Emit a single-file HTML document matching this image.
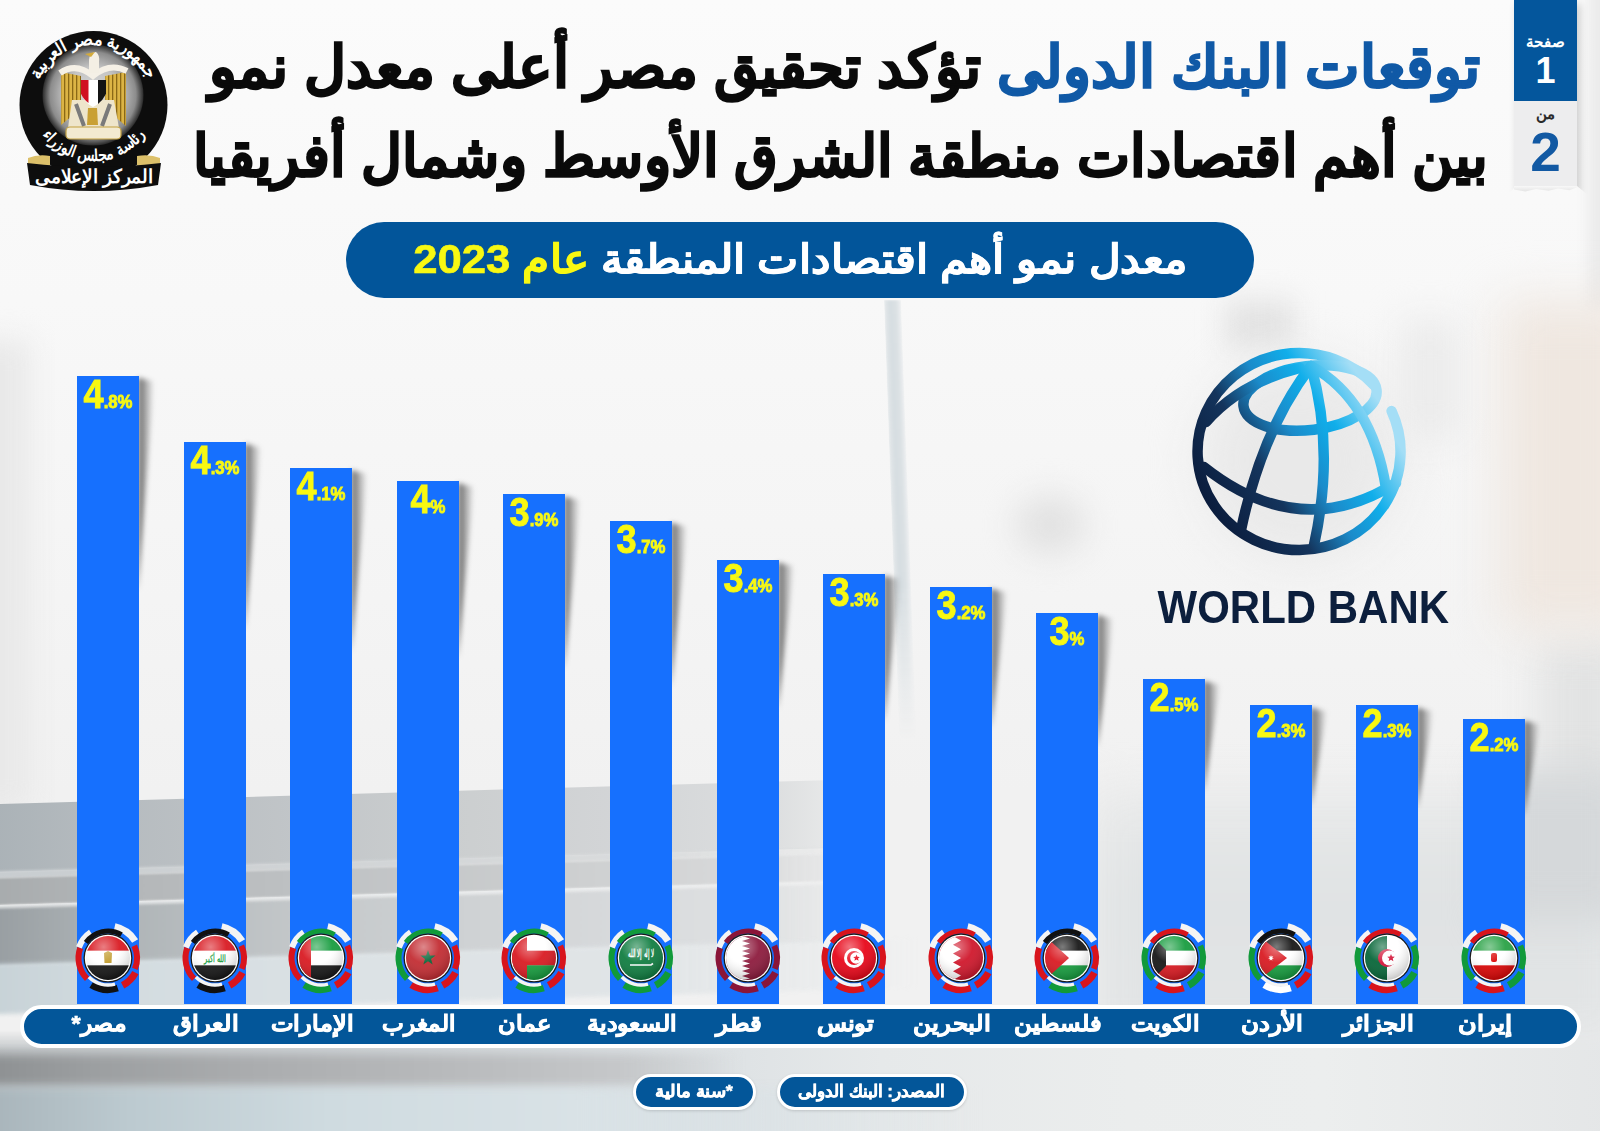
<!DOCTYPE html>
<html lang="ar"><head><meta charset="utf-8"><title>World Bank growth</title>
<style>
*{margin:0;padding:0;box-sizing:border-box}
html,body{width:1600px;height:1131px;overflow:hidden}
body{position:relative;font-family:"Liberation Sans",sans-serif;background:#f6f6f6}
.abs{position:absolute}
.bg{position:absolute;left:0;top:0;width:1600px;height:1131px}
.title{position:absolute;white-space:nowrap;font-weight:bold;line-height:1;direction:rtl;transform-origin:right top}
.bar{position:absolute;width:62px;background:#1670fe}
.shd{position:absolute;width:16px;filter:blur(2.4px)}
.shd div{width:100%;height:100%;background:linear-gradient(90deg,rgba(35,35,35,.7),rgba(35,35,35,.35) 50%,rgba(35,35,35,0));clip-path:polygon(0 0,100% 4px,0 100%)}
.pct{position:absolute;width:62px;text-align:center;color:#f8f812;font-weight:bold;white-space:nowrap;line-height:1;transform:scaleX(.88);transform-origin:center top;-webkit-text-stroke:.9px}
.pct b{font-size:41px}
.pct i{font-style:normal;font-size:19px}
.band{position:absolute;left:20px;top:1005px;width:1561px;height:43px;border-radius:22px;background:#035699;border:4px solid #fff}
.lbl{position:absolute;top:1011px;color:#fff;font-weight:bold;font-size:22px;direction:rtl;white-space:nowrap;text-align:center;width:140px;-webkit-text-stroke:.7px;transform:scaleX(.93)}
.pill{position:absolute;background:#035699;border:3px solid #fff;border-radius:20px;color:#fff;font-weight:bold;font-size:17px;direction:rtl;text-align:center;white-space:nowrap;-webkit-text-stroke:.5px;box-shadow:0 1px 3px rgba(0,0,0,.15)}
</style></head><body>
<svg width="0" height="0" style="position:absolute"><defs>
<radialGradient id="gloss" cx="0.4" cy="0.25" r="0.8"><stop offset="0" stop-color="#fff" stop-opacity=".45"/><stop offset=".45" stop-color="#fff" stop-opacity=".08"/><stop offset="1" stop-color="#000" stop-opacity=".25"/></radialGradient>
<linearGradient id="wbg" x1="0" y1="1" x2="1" y2="0"><stop offset="0" stop-color="#0a1a38"/><stop offset=".35" stop-color="#0f2a52"/><stop offset=".62" stop-color="#1a86c4"/><stop offset=".8" stop-color="#0aaee9"/><stop offset="1" stop-color="#9edcf6"/></linearGradient>
<radialGradient id="lgin" cx=".5" cy=".5" r=".5"><stop offset="0" stop-color="#d8d8d8"/><stop offset=".55" stop-color="#c4c4c4"/><stop offset=".85" stop-color="#8c8c8c"/><stop offset="1" stop-color="#2a2a2a"/></radialGradient>
<linearGradient id="gold" x1="0" y1="0" x2="1" y2="0"><stop offset="0" stop-color="#8a6a1a"/><stop offset=".5" stop-color="#e8c862"/><stop offset="1" stop-color="#9a7a22"/></linearGradient>
</defs></svg>

<div class="abs" style="left:0;top:0;width:1600px;height:1131px;background:linear-gradient(#fbfbfb 0,#f8f8f8 300px,#f4f4f4 600px,#f1f1f1 790px)"></div>
<div class="abs" style="left:1588px;top:-20px;width:30px;height:330px;background:#ebebeb;filter:blur(6px)"></div>
<div class="abs" style="left:1540px;top:640px;width:90px;height:180px;background:#e2e3e3;filter:blur(20px)"></div>
<div class="abs" style="left:-40px;top:340px;width:70px;height:470px;background:#e9e9e9;filter:blur(14px)"></div>
<div class="abs" style="left:884px;top:300px;width:17px;height:440px;transform:skewX(2.0deg);transform-origin:0 0;background:linear-gradient(90deg,#e4e8ea,#d6dde1 35%,#dbe1e4 70%,#eef0f1);-webkit-mask-image:linear-gradient(#000 65%,transparent);filter:blur(.8px)"></div>
<div class="abs" style="left:1015px;top:495px;width:70px;height:60px;border-radius:50%;background:#e2e2e2;filter:blur(16px)"></div>
<div class="abs" style="left:1500px;top:300px;width:140px;height:330px;background:#efe7e0;filter:blur(25px)"></div>
<div class="abs" style="left:1225px;top:300px;width:70px;height:50px;background:#e3e3e3;filter:blur(14px)"></div>
<div class="abs" style="left:1200px;top:360px;width:200px;height:200px;border-radius:50%;background:#e9e9e9;filter:blur(25px)"></div>
<div class="abs" style="left:1400px;top:320px;width:60px;height:120px;background:#ebebeb;filter:blur(18px)"></div>
<!-- laptop body -->
<div class="abs" style="left:0;top:0;width:1600px;height:1131px;transform:skewY(-1.65deg);transform-origin:0 0">
<div class="abs" style="left:-20px;top:803.6px;width:900px;height:68px;background:linear-gradient(90deg,#a9b1b6 0,#b4babe 12%,#c1c5c8 35%,#cbcecf 52%,#d3d5d7 72%,#dcdedf 88%,rgba(236,237,238,0) 100%)"></div>
<div class="abs" style="left:-20px;top:871px;width:900px;height:7px;background:linear-gradient(90deg,#c8cdd0,#d1d4d6 40%,#dadcdd 75%,rgba(236,237,238,0));filter:blur(.8px)"></div>
<div class="abs" style="left:-20px;top:878px;width:900px;height:27px;background:linear-gradient(90deg,#a6aaac,#b3b6b8 15%,#bfc2c4 38%,#cdcfd0 65%,#d8d9da 85%,rgba(236,237,238,0));filter:blur(1px)"></div>
<div class="abs" style="left:-20px;top:905px;width:880px;height:3px;background:linear-gradient(90deg,#e6e8e9,#eceeef 70%,rgba(240,240,240,0))"></div>
<div class="abs" style="left:-20px;top:908px;width:900px;height:58px;background:linear-gradient(90deg,#959b9f,#aab0b3 12%,#c3c7c9 35%,#cfd2d4 55%,#d9dbdd 75%,#e0e2e3 88%,rgba(236,237,238,0));filter:blur(1.5px)"></div>
<div class="abs" style="left:-20px;top:964px;width:940px;height:50px;background:linear-gradient(90deg,#c6d1d6,#d3dce0 15%,#dce2e5 40%,#e1e5e7 70%,rgba(236,238,239,0));filter:blur(2px)"></div>
</div>
<div class="abs" style="left:1090px;top:790px;width:540px;height:260px;background:linear-gradient(#e9eaea,#e0e3e4 40%,#e3e5e6);filter:blur(22px)"></div>
<div class="abs" style="left:1490px;top:770px;width:140px;height:150px;background:#d5d8da;filter:blur(20px)"></div>
<!-- bottom -->
<div class="abs" style="left:-20px;top:1030px;width:1640px;height:110px;background:linear-gradient(90deg,#c3c7c9 0,#cbd0d3 20%,#d9dee1 40%,#e6e9ea 55%,#ebeded 70%,#eceeee 82%,#e4e6e7 100%);-webkit-mask-image:linear-gradient(transparent 0,#000 20px)"></div>
<div class="abs" style="left:-20px;top:1054px;width:760px;height:32px;background:linear-gradient(90deg,#8c8f91,#9c9fa1 15%,#aaacae 35%,#b7b9bb 60%,#c6c8ca 85%,rgba(216,219,221,0));filter:blur(5px)"></div>
<div class="abs" style="left:-20px;top:1088px;width:1000px;height:60px;background:linear-gradient(90deg,#a7b3b9,#bccad0 15%,#cfdbe0 35%,#d9e2e6 60%,rgba(225,230,232,0));filter:blur(5px)"></div>


<svg class="abs" style="left:10px;top:22px" width="170" height="175" viewBox="10 22 170 175">
<defs>
<path id="topArc" d="M37.1 84.5 A60 60 0 0 1 149.9 84.5"/>
<path id="botArc" d="M35.5 124 A64 64 0 0 0 151.5 124"/>
<pattern id="wstripe" width="4" height="10" patternUnits="userSpaceOnUse"><rect width="4" height="10" fill="#dcb445"/><rect width="1.3" height="10" fill="#8a6816"/></pattern>
</defs>
<circle cx="93.5" cy="105" r="74" fill="#0d0d0d"/>
<circle cx="93" cy="95" r="50.5" fill="url(#lgin)"/>
<g>
<path d="M61 72 L81 76 L81 104 L72 116 L61 125 Z" fill="url(#wstripe)"/>
<path d="M126 72 L105 76 L105 104 L114 116 L126 126 Z" fill="url(#wstripe)"/>
<path d="M72 100 L114 100 L119 128 L68 128 Z" fill="#eee5cb"/>
<path d="M76 104 L84 126 M110 104 L102 126" stroke="#7a7a7a" stroke-width="4"/>
<path d="M88 108 L97 108 L98 125 L87 125 Z" fill="#c9a033"/>
<path d="M60 73 Q76 62 93 76 Q110 62 127 71" stroke="#f5f0e6" stroke-width="6" fill="none"/>
<path d="M89 73 L89 60 Q90 52 96 52 Q100 55 99 62 L99 73 Z" fill="#f4efe4"/>
<path d="M95 52 L85 54 L91 57 Z" fill="#d4ab3c"/>
<path d="M81 80 L106 80 L106 94 Q100 104 93 107 Q86 104 81 94 Z" fill="#fff"/>
<path d="M81 80 L88.5 80 L88.5 103 Q84 100 81 94 Z" fill="#d01020"/>
<path d="M98 80 L106 80 L106 94 Q103 100 98 104 Z" fill="#141414"/>
<rect x="66" y="127" width="55" height="12" rx="4" fill="#f3ead0" stroke="#c2a040" stroke-width="1.2"/>
</g>
<text fill="#fff" font-size="17" font-weight="bold" text-anchor="middle"><textPath href="#topArc" startOffset="50%" textLength="136" lengthAdjust="spacingAndGlyphs">جمهورية مصر العربية</textPath></text>
<text fill="#fff" font-size="16" font-weight="bold" text-anchor="middle"><textPath href="#botArc" startOffset="50%" textLength="120" lengthAdjust="spacingAndGlyphs">رئاسة مجلس الوزراء</textPath></text>
<path d="M28 158 Q38 154 50 156 L50 167 L28 167 Z" fill="#dcc06a"/>
<path d="M160 158 Q150 154 137 156 L137 167 L160 167 Z" fill="#dcc06a"/>
<path d="M27 163 Q94 171 161 163 L158 185 Q94 197 30 185 Z" fill="#0d0d0d"/>
<text x="94" y="183" fill="#fff" font-size="19" font-weight="bold" text-anchor="middle" textLength="118" lengthAdjust="spacingAndGlyphs">المركز الإعلامى</text>
</svg>


<div class="abs" style="left:1514px;top:0;width:63px;height:191px;box-shadow:3px 4px 8px rgba(0,0,0,.18);background:#ededee;clip-path:polygon(-10px 0,80px 0,80px 200px,63px 186px,55px 189px,45px 187px,35px 190px,22px 187px,10px 190px,0 188px,-10px 200px)"></div>
<div class="abs" style="left:1514px;top:0;width:63px;height:101px;background:#04569c"></div>
<div class="abs" style="left:1514px;top:186px;width:63px;height:6px;background:linear-gradient(#f8f8f8,#e2e2e2);clip-path:polygon(0 0,100% 0,100% 20%,88% 70%,70% 40%,55% 80%,35% 50%,18% 90%,0 60%)"></div>
<div class="abs" style="left:1514px;top:33px;width:63px;text-align:center;color:#fff;font-weight:bold;font-size:15px;line-height:18px;direction:rtl">صفحة</div>
<div class="abs" style="left:1514px;top:53px;width:63px;text-align:center;color:#fff;font-weight:bold;font-size:36px;line-height:36px">1</div>
<div class="abs" style="left:1514px;top:105px;width:63px;text-align:center;color:#2a2a2a;font-weight:bold;font-size:15px;line-height:18px;direction:rtl">من</div>
<div class="abs" style="left:1514px;top:125px;width:63px;text-align:center;color:#1259a3;font-weight:bold;font-size:55px;line-height:55px">2</div>


<svg class="abs" style="left:1180px;top:335px" width="240" height="230" viewBox="1180 335 240 230">
<defs><linearGradient id="wbg2" gradientUnits="userSpaceOnUse" x1="1205" y1="500" x2="1372" y2="400"><stop offset="0" stop-color="#0b1d3d"/><stop offset=".33" stop-color="#14345c"/><stop offset=".55" stop-color="#1b8bca"/><stop offset=".75" stop-color="#10aeea"/><stop offset="1" stop-color="#a4def6"/></linearGradient></defs>
<g fill="none" stroke="url(#wbg2)" stroke-width="10.5" stroke-linecap="round">
<path d="M1391.6 411.1 A101.5 98.5 0 1 1 1373.7 384.8"/>
<ellipse cx="1310" cy="398" rx="67" ry="32" transform="rotate(-7 1310 398)"/>
<path d="M1311 366 Q1262 430 1241 530"/>
<path d="M1311 366 Q1335 450 1314 545"/>
<path d="M1311 366 Q1372 400 1386 488"/>
<path d="M1204 467 Q1300 543 1396 483"/>
<path d="M1206 422 Q1240 383 1300 368"/>
</g>
</svg>
<div class="abs" style="left:1141px;top:581px;width:310px;text-align:center;color:#0c1f3d;font-weight:bold;font-size:47px;line-height:52px;white-space:nowrap;transform:scaleX(.893)">WORLD BANK</div>


<div class="title fit" id="t1" style="right:120.0px;top:37.5px;font-size:58px;transform:scaleX(0.8453);-webkit-text-stroke:1.6px"><span class="fi" id="t1i"><span style="color:#1059a6">توقعات البنك الدولى</span> <span style="color:#0a0a0a">تؤكد تحقيق مصر أعلى معدل نمو</span></span></div>
<div class="title fit" id="t2" style="right:112.0px;top:126.9px;color:#0a0a0a;font-size:58px;transform:scaleX(0.8129);-webkit-text-stroke:1.6px"><span class="fi" id="t2i">بين أهم اقتصادات منطقة الشرق الأوسط وشمال أفريقيا</span></div>

<div class="abs" style="left:346px;top:222px;width:908px;height:76px;border-radius:38px;background:#02559a"></div>
<div class="abs fit" id="sub" style="left:346px;top:236px;width:908px;text-align:center;direction:rtl;color:#fff;font-weight:bold;font-size:40px;line-height:46px;white-space:nowrap;transform:scaleX(0.9436);-webkit-text-stroke:0.6px"><span class="fi">معدل نمو أهم اقتصادات المنطقة <span style="color:#f8f812">عام 2023</span></span></div>

<div class="shd" style="left:138.0px;top:377.6px;height:213.7px"><div></div></div>
<div class="bar" style="left:77.0px;top:375.6px;height:628.4px"></div>
<div class="shd" style="left:244.6px;top:443.6px;height:191.2px"><div></div></div>
<div class="bar" style="left:183.6px;top:441.6px;height:562.5px"></div>
<div class="shd" style="left:351.2px;top:469.9px;height:182.3px"><div></div></div>
<div class="bar" style="left:290.2px;top:467.9px;height:536.1px"></div>
<div class="shd" style="left:457.8px;top:483.1px;height:177.8px"><div></div></div>
<div class="bar" style="left:396.8px;top:481.1px;height:522.9px"></div>
<div class="shd" style="left:564.4px;top:496.3px;height:173.3px"><div></div></div>
<div class="bar" style="left:503.4px;top:494.3px;height:509.7px"></div>
<div class="shd" style="left:671.0px;top:522.7px;height:164.3px"><div></div></div>
<div class="bar" style="left:610.0px;top:520.7px;height:483.3px"></div>
<div class="shd" style="left:777.6px;top:562.3px;height:150.9px"><div></div></div>
<div class="bar" style="left:716.6px;top:560.3px;height:443.7px"></div>
<div class="shd" style="left:884.2px;top:575.5px;height:146.4px"><div></div></div>
<div class="bar" style="left:823.2px;top:573.5px;height:430.5px"></div>
<div class="shd" style="left:990.8px;top:588.6px;height:141.9px"><div></div></div>
<div class="bar" style="left:929.8px;top:586.6px;height:417.4px"></div>
<div class="shd" style="left:1097.4px;top:615.0px;height:132.9px"><div></div></div>
<div class="bar" style="left:1036.4px;top:613.0px;height:391.0px"></div>
<div class="shd" style="left:1204.0px;top:681.0px;height:110.5px"><div></div></div>
<div class="bar" style="left:1143.0px;top:679.0px;height:325.0px"></div>
<div class="shd" style="left:1310.6px;top:707.4px;height:101.5px"><div></div></div>
<div class="bar" style="left:1249.6px;top:705.4px;height:298.6px"></div>
<div class="shd" style="left:1417.2px;top:707.4px;height:101.5px"><div></div></div>
<div class="bar" style="left:1356.2px;top:705.4px;height:298.6px"></div>
<div class="shd" style="left:1523.8px;top:720.5px;height:97.1px"><div></div></div>
<div class="bar" style="left:1462.8px;top:718.5px;height:285.5px"></div>
<div class="pct" style="left:77.0px;top:373.6px"><b>4</b><i>.8%</i></div>
<div class="pct" style="left:183.6px;top:439.6px"><b>4</b><i>.3%</i></div>
<div class="pct" style="left:290.2px;top:465.9px"><b>4</b><i>.1%</i></div>
<div class="pct" style="left:396.8px;top:479.1px"><b>4</b><i>%</i></div>
<div class="pct" style="left:503.4px;top:492.3px"><b>3</b><i>.9%</i></div>
<div class="pct" style="left:610.0px;top:518.7px"><b>3</b><i>.7%</i></div>
<div class="pct" style="left:716.6px;top:558.3px"><b>3</b><i>.4%</i></div>
<div class="pct" style="left:823.2px;top:571.5px"><b>3</b><i>.3%</i></div>
<div class="pct" style="left:929.8px;top:584.6px"><b>3</b><i>.2%</i></div>
<div class="pct" style="left:1036.4px;top:611.0px"><b>3</b><i>%</i></div>
<div class="pct" style="left:1143.0px;top:677.0px"><b>2</b><i>.5%</i></div>
<div class="pct" style="left:1249.6px;top:703.4px"><b>2</b><i>.3%</i></div>
<div class="pct" style="left:1356.2px;top:703.4px"><b>2</b><i>.3%</i></div>
<div class="pct" style="left:1462.8px;top:716.5px"><b>2</b><i>.2%</i></div>
<div class="abs" style="left:68.0px;top:918px;width:80px;height:80px"><svg class="flag" width="80" height="80" viewBox="-40 -40 80 80"><defs><clipPath id="fc0"><circle r="22"/></clipPath></defs><path d="M6.7 -31.3A32 32 0 0 1 27.1 -17.0" stroke="#f4f4f4" stroke-width="7" fill="none"/><path d="M26.3 -12.3A29 29 0 0 1 26.9 10.9" stroke="#d8141c" stroke-width="6" fill="none"/><path d="M27.4 14.6A31 31 0 0 1 14.6 27.4" stroke="#d8141c" stroke-width="7" fill="none"/><path d="M9.7 30.0A31.5 31.5 0 0 1 -16.7 26.7" stroke="#111111" stroke-width="7" fill="none"/><path d="M-20.9 20.9A29.5 29.5 0 0 1 -27.7 -10.1" stroke="#d8141c" stroke-width="6" fill="none"/><path d="M-29.1 -10.6A31 31 0 0 1 -17.3 -25.7" stroke="#f4f4f4" stroke-width="6" fill="none"/><path d="M-22.1 -15.5A27 27 0 0 1 13.5 -23.4" stroke="#111111" stroke-width="5" fill="none"/><path d="M7.0 26.1A27 27 0 0 1 -19.1 19.1" stroke="#f4f4f4" stroke-width="3.5" fill="none"/><circle r="24.5" fill="#1a1a1a"/><circle r="23.2" fill="#fff"/><g clip-path="url(#fc0)"><rect x="-22" y="-22.00" width="44" height="14.97" fill="#d8141c"/><rect x="-22" y="-7.33" width="44" height="14.97" fill="#ffffff"/><rect x="-22" y="7.33" width="44" height="14.97" fill="#111111"/><path d="M-4 -5 L0 -7 L4 -5 L3.5 5 L-3.5 5 Z" fill="#c09a2a"/></g><circle r="22" fill="url(#gloss)"/></svg></div>
<div class="abs" style="left:174.6px;top:918px;width:80px;height:80px"><svg class="flag" width="80" height="80" viewBox="-40 -40 80 80"><defs><clipPath id="fc1"><circle r="22"/></clipPath></defs><path d="M6.7 -31.3A32 32 0 0 1 27.1 -17.0" stroke="#f4f4f4" stroke-width="7" fill="none"/><path d="M26.3 -12.3A29 29 0 0 1 26.9 10.9" stroke="#d8141c" stroke-width="6" fill="none"/><path d="M27.4 14.6A31 31 0 0 1 14.6 27.4" stroke="#d8141c" stroke-width="7" fill="none"/><path d="M9.7 30.0A31.5 31.5 0 0 1 -16.7 26.7" stroke="#111111" stroke-width="7" fill="none"/><path d="M-20.9 20.9A29.5 29.5 0 0 1 -27.7 -10.1" stroke="#d8141c" stroke-width="6" fill="none"/><path d="M-29.1 -10.6A31 31 0 0 1 -17.3 -25.7" stroke="#f4f4f4" stroke-width="6" fill="none"/><path d="M-22.1 -15.5A27 27 0 0 1 13.5 -23.4" stroke="#111111" stroke-width="5" fill="none"/><path d="M7.0 26.1A27 27 0 0 1 -19.1 19.1" stroke="#f4f4f4" stroke-width="3.5" fill="none"/><circle r="24.5" fill="#1a1a1a"/><circle r="23.2" fill="#fff"/><g clip-path="url(#fc1)"><rect x="-22" y="-22.00" width="44" height="14.97" fill="#d8141c"/><rect x="-22" y="-7.33" width="44" height="14.97" fill="#ffffff"/><rect x="-22" y="7.33" width="44" height="14.97" fill="#111111"/><text x="0" y="4" font-size="10" font-weight="bold" fill="#119a3a" text-anchor="middle" textLength="22" lengthAdjust="spacingAndGlyphs">الله أكبر</text></g><circle r="22" fill="url(#gloss)"/></svg></div>
<div class="abs" style="left:281.2px;top:918px;width:80px;height:80px"><svg class="flag" width="80" height="80" viewBox="-40 -40 80 80"><defs><clipPath id="fc2"><circle r="22"/></clipPath></defs><path d="M6.7 -31.3A32 32 0 0 1 27.1 -17.0" stroke="#f4f4f4" stroke-width="7" fill="none"/><path d="M26.3 -12.3A29 29 0 0 1 26.9 10.9" stroke="#d8141c" stroke-width="6" fill="none"/><path d="M27.4 14.6A31 31 0 0 1 14.6 27.4" stroke="#d8141c" stroke-width="7" fill="none"/><path d="M9.7 30.0A31.5 31.5 0 0 1 -16.7 26.7" stroke="#119a3a" stroke-width="7" fill="none"/><path d="M-20.9 20.9A29.5 29.5 0 0 1 -27.7 -10.1" stroke="#d8141c" stroke-width="6" fill="none"/><path d="M-29.1 -10.6A31 31 0 0 1 -17.3 -25.7" stroke="#f4f4f4" stroke-width="6" fill="none"/><path d="M-22.1 -15.5A27 27 0 0 1 13.5 -23.4" stroke="#119a3a" stroke-width="5" fill="none"/><path d="M7.0 26.1A27 27 0 0 1 -19.1 19.1" stroke="#f4f4f4" stroke-width="3.5" fill="none"/><circle r="24.5" fill="#1a1a1a"/><circle r="23.2" fill="#fff"/><g clip-path="url(#fc2)"><rect x="-22" y="-22.00" width="44" height="14.97" fill="#119a3a"/><rect x="-22" y="-7.33" width="44" height="14.97" fill="#ffffff"/><rect x="-22" y="7.33" width="44" height="14.97" fill="#111111"/><rect x="-22" y="-22" width="12.0" height="44" fill="#d8141c"/></g><circle r="22" fill="url(#gloss)"/></svg></div>
<div class="abs" style="left:387.8px;top:918px;width:80px;height:80px"><svg class="flag" width="80" height="80" viewBox="-40 -40 80 80"><defs><clipPath id="fc3"><circle r="22"/></clipPath></defs><path d="M6.7 -31.3A32 32 0 0 1 27.1 -17.0" stroke="#f4f4f4" stroke-width="7" fill="none"/><path d="M26.3 -12.3A29 29 0 0 1 26.9 10.9" stroke="#d8141c" stroke-width="6" fill="none"/><path d="M27.4 14.6A31 31 0 0 1 14.6 27.4" stroke="#d8141c" stroke-width="7" fill="none"/><path d="M9.7 30.0A31.5 31.5 0 0 1 -16.7 26.7" stroke="#d8141c" stroke-width="7" fill="none"/><path d="M-20.9 20.9A29.5 29.5 0 0 1 -27.7 -10.1" stroke="#119a3a" stroke-width="6" fill="none"/><path d="M-29.1 -10.6A31 31 0 0 1 -17.3 -25.7" stroke="#f4f4f4" stroke-width="6" fill="none"/><path d="M-22.1 -15.5A27 27 0 0 1 13.5 -23.4" stroke="#119a3a" stroke-width="5" fill="none"/><path d="M7.0 26.1A27 27 0 0 1 -19.1 19.1" stroke="#f4f4f4" stroke-width="3.5" fill="none"/><circle r="24.5" fill="#1a1a1a"/><circle r="23.2" fill="#fff"/><g clip-path="url(#fc3)"><rect x="-22" y="-22" width="44" height="44" fill="#c1272d"/><polygon points="0.0,-8.0 1.9,-2.6 7.6,-2.5 3.0,1.0 4.7,6.5 0.0,3.2 -4.7,6.5 -3.0,1.0 -7.6,-2.5 -1.9,-2.6" fill="#006233"/></g><circle r="22" fill="url(#gloss)"/></svg></div>
<div class="abs" style="left:494.4px;top:918px;width:80px;height:80px"><svg class="flag" width="80" height="80" viewBox="-40 -40 80 80"><defs><clipPath id="fc4"><circle r="22"/></clipPath></defs><path d="M6.7 -31.3A32 32 0 0 1 27.1 -17.0" stroke="#f4f4f4" stroke-width="7" fill="none"/><path d="M26.3 -12.3A29 29 0 0 1 26.9 10.9" stroke="#d8141c" stroke-width="6" fill="none"/><path d="M27.4 14.6A31 31 0 0 1 14.6 27.4" stroke="#d8141c" stroke-width="7" fill="none"/><path d="M9.7 30.0A31.5 31.5 0 0 1 -16.7 26.7" stroke="#119a3a" stroke-width="7" fill="none"/><path d="M-20.9 20.9A29.5 29.5 0 0 1 -27.7 -10.1" stroke="#d8141c" stroke-width="6" fill="none"/><path d="M-29.1 -10.6A31 31 0 0 1 -17.3 -25.7" stroke="#f4f4f4" stroke-width="6" fill="none"/><path d="M-22.1 -15.5A27 27 0 0 1 13.5 -23.4" stroke="#119a3a" stroke-width="5" fill="none"/><path d="M7.0 26.1A27 27 0 0 1 -19.1 19.1" stroke="#f4f4f4" stroke-width="3.5" fill="none"/><circle r="24.5" fill="#1a1a1a"/><circle r="23.2" fill="#fff"/><g clip-path="url(#fc4)"><rect x="-22" y="-22.00" width="44" height="14.97" fill="#ffffff"/><rect x="-22" y="-7.33" width="44" height="14.97" fill="#d8141c"/><rect x="-22" y="7.33" width="44" height="14.97" fill="#119a3a"/><rect x="-22" y="-22" width="15" height="44" fill="#d8141c"/></g><circle r="22" fill="url(#gloss)"/></svg></div>
<div class="abs" style="left:601.0px;top:918px;width:80px;height:80px"><svg class="flag" width="80" height="80" viewBox="-40 -40 80 80"><defs><clipPath id="fc5"><circle r="22"/></clipPath></defs><path d="M6.7 -31.3A32 32 0 0 1 27.1 -17.0" stroke="#f4f4f4" stroke-width="7" fill="none"/><path d="M26.3 -12.3A29 29 0 0 1 26.9 10.9" stroke="#119a3a" stroke-width="6" fill="none"/><path d="M27.4 14.6A31 31 0 0 1 14.6 27.4" stroke="#119a3a" stroke-width="7" fill="none"/><path d="M9.7 30.0A31.5 31.5 0 0 1 -16.7 26.7" stroke="#119a3a" stroke-width="7" fill="none"/><path d="M-20.9 20.9A29.5 29.5 0 0 1 -27.7 -10.1" stroke="#119a3a" stroke-width="6" fill="none"/><path d="M-29.1 -10.6A31 31 0 0 1 -17.3 -25.7" stroke="#f4f4f4" stroke-width="6" fill="none"/><path d="M-22.1 -15.5A27 27 0 0 1 13.5 -23.4" stroke="#119a3a" stroke-width="5" fill="none"/><path d="M7.0 26.1A27 27 0 0 1 -19.1 19.1" stroke="#f4f4f4" stroke-width="3.5" fill="none"/><circle r="24.5" fill="#1a1a1a"/><circle r="23.2" fill="#fff"/><g clip-path="url(#fc5)"><rect x="-22" y="-22" width="44" height="44" fill="#0a7a3c"/><text x="0" y="-1" font-size="11" font-weight="bold" fill="#fff" text-anchor="middle" textLength="26" lengthAdjust="spacingAndGlyphs">لا إله إلا الله</text><path d="M-11 7 L10 7 L12 5.5" stroke="#fff" stroke-width="1.6" fill="none"/></g><circle r="22" fill="url(#gloss)"/></svg></div>
<div class="abs" style="left:707.6px;top:918px;width:80px;height:80px"><svg class="flag" width="80" height="80" viewBox="-40 -40 80 80"><defs><clipPath id="fc6"><circle r="22"/></clipPath></defs><path d="M6.7 -31.3A32 32 0 0 1 27.1 -17.0" stroke="#f4f4f4" stroke-width="7" fill="none"/><path d="M26.3 -12.3A29 29 0 0 1 26.9 10.9" stroke="#8a1538" stroke-width="6" fill="none"/><path d="M27.4 14.6A31 31 0 0 1 14.6 27.4" stroke="#8a1538" stroke-width="7" fill="none"/><path d="M9.7 30.0A31.5 31.5 0 0 1 -16.7 26.7" stroke="#8a1538" stroke-width="7" fill="none"/><path d="M-20.9 20.9A29.5 29.5 0 0 1 -27.7 -10.1" stroke="#8a1538" stroke-width="6" fill="none"/><path d="M-29.1 -10.6A31 31 0 0 1 -17.3 -25.7" stroke="#f4f4f4" stroke-width="6" fill="none"/><path d="M-22.1 -15.5A27 27 0 0 1 13.5 -23.4" stroke="#8a1538" stroke-width="5" fill="none"/><path d="M7.0 26.1A27 27 0 0 1 -19.1 19.1" stroke="#f4f4f4" stroke-width="3.5" fill="none"/><circle r="24.5" fill="#1a1a1a"/><circle r="23.2" fill="#fff"/><g clip-path="url(#fc6)"><rect x="-22" y="-22" width="44" height="44" fill="#8a1538"/><path d="M-22 -22 L-6 -22 L2 -19.5 L-6 -17 L2 -14.5 L-6 -12 L2 -9.5 L-6 -7 L2 -4.5 L-6 -2 L2 0.5 L-6 3 L2 5.5 L-6 8 L2 10.5 L-6 13 L2 15.5 L-6 18 L2 20.5 L-6 22 L-22 22Z" fill="#fff"/></g><circle r="22" fill="url(#gloss)"/></svg></div>
<div class="abs" style="left:814.2px;top:918px;width:80px;height:80px"><svg class="flag" width="80" height="80" viewBox="-40 -40 80 80"><defs><clipPath id="fc7"><circle r="22"/></clipPath></defs><path d="M6.7 -31.3A32 32 0 0 1 27.1 -17.0" stroke="#f4f4f4" stroke-width="7" fill="none"/><path d="M26.3 -12.3A29 29 0 0 1 26.9 10.9" stroke="#d8141c" stroke-width="6" fill="none"/><path d="M27.4 14.6A31 31 0 0 1 14.6 27.4" stroke="#d8141c" stroke-width="7" fill="none"/><path d="M9.7 30.0A31.5 31.5 0 0 1 -16.7 26.7" stroke="#d8141c" stroke-width="7" fill="none"/><path d="M-20.9 20.9A29.5 29.5 0 0 1 -27.7 -10.1" stroke="#d8141c" stroke-width="6" fill="none"/><path d="M-29.1 -10.6A31 31 0 0 1 -17.3 -25.7" stroke="#f4f4f4" stroke-width="6" fill="none"/><path d="M-22.1 -15.5A27 27 0 0 1 13.5 -23.4" stroke="#d8141c" stroke-width="5" fill="none"/><path d="M7.0 26.1A27 27 0 0 1 -19.1 19.1" stroke="#f4f4f4" stroke-width="3.5" fill="none"/><circle r="24.5" fill="#1a1a1a"/><circle r="23.2" fill="#fff"/><g clip-path="url(#fc7)"><rect x="-22" y="-22" width="44" height="44" fill="#e70013"/><circle r="10" fill="#fff"/><circle r="7" fill="#e70013"/><circle cx="2" r="5.8" fill="#fff"/><polygon points="2.5,-3.5 3.4,-1.3 5.8,-1.1 4.0,0.5 4.6,2.8 2.5,1.6 0.4,2.8 1.0,0.5 -0.8,-1.1 1.6,-1.3" fill="#e70013"/></g><circle r="22" fill="url(#gloss)"/></svg></div>
<div class="abs" style="left:920.8px;top:918px;width:80px;height:80px"><svg class="flag" width="80" height="80" viewBox="-40 -40 80 80"><defs><clipPath id="fc8"><circle r="22"/></clipPath></defs><path d="M6.7 -31.3A32 32 0 0 1 27.1 -17.0" stroke="#f4f4f4" stroke-width="7" fill="none"/><path d="M26.3 -12.3A29 29 0 0 1 26.9 10.9" stroke="#d8141c" stroke-width="6" fill="none"/><path d="M27.4 14.6A31 31 0 0 1 14.6 27.4" stroke="#d8141c" stroke-width="7" fill="none"/><path d="M9.7 30.0A31.5 31.5 0 0 1 -16.7 26.7" stroke="#d8141c" stroke-width="7" fill="none"/><path d="M-20.9 20.9A29.5 29.5 0 0 1 -27.7 -10.1" stroke="#d8141c" stroke-width="6" fill="none"/><path d="M-29.1 -10.6A31 31 0 0 1 -17.3 -25.7" stroke="#f4f4f4" stroke-width="6" fill="none"/><path d="M-22.1 -15.5A27 27 0 0 1 13.5 -23.4" stroke="#d8141c" stroke-width="5" fill="none"/><path d="M7.0 26.1A27 27 0 0 1 -19.1 19.1" stroke="#f4f4f4" stroke-width="3.5" fill="none"/><circle r="24.5" fill="#1a1a1a"/><circle r="23.2" fill="#fff"/><g clip-path="url(#fc8)"><rect x="-22" y="-22" width="44" height="44" fill="#ce1126"/><path d="M-22 -22 L-8 -22 L0 -17.6 L-8 -13.2 L0 -8.8 L-8 -4.4 L0 0 L-8 4.4 L0 8.8 L-8 13.2 L0 17.6 L-8 22 L-22 22Z" fill="#fff"/></g><circle r="22" fill="url(#gloss)"/></svg></div>
<div class="abs" style="left:1027.4px;top:918px;width:80px;height:80px"><svg class="flag" width="80" height="80" viewBox="-40 -40 80 80"><defs><clipPath id="fc9"><circle r="22"/></clipPath></defs><path d="M6.7 -31.3A32 32 0 0 1 27.1 -17.0" stroke="#f4f4f4" stroke-width="7" fill="none"/><path d="M26.3 -12.3A29 29 0 0 1 26.9 10.9" stroke="#d8141c" stroke-width="6" fill="none"/><path d="M27.4 14.6A31 31 0 0 1 14.6 27.4" stroke="#d8141c" stroke-width="7" fill="none"/><path d="M9.7 30.0A31.5 31.5 0 0 1 -16.7 26.7" stroke="#119a3a" stroke-width="7" fill="none"/><path d="M-20.9 20.9A29.5 29.5 0 0 1 -27.7 -10.1" stroke="#d8141c" stroke-width="6" fill="none"/><path d="M-29.1 -10.6A31 31 0 0 1 -17.3 -25.7" stroke="#f4f4f4" stroke-width="6" fill="none"/><path d="M-22.1 -15.5A27 27 0 0 1 13.5 -23.4" stroke="#111111" stroke-width="5" fill="none"/><path d="M7.0 26.1A27 27 0 0 1 -19.1 19.1" stroke="#f4f4f4" stroke-width="3.5" fill="none"/><circle r="24.5" fill="#1a1a1a"/><circle r="23.2" fill="#fff"/><g clip-path="url(#fc9)"><rect x="-22" y="-22.00" width="44" height="14.97" fill="#111111"/><rect x="-22" y="-7.33" width="44" height="14.97" fill="#ffffff"/><rect x="-22" y="7.33" width="44" height="14.97" fill="#119a3a"/><path d="M-22 -22 L2 0 L-22 22Z" fill="#d8141c"/></g><circle r="22" fill="url(#gloss)"/></svg></div>
<div class="abs" style="left:1134.0px;top:918px;width:80px;height:80px"><svg class="flag" width="80" height="80" viewBox="-40 -40 80 80"><defs><clipPath id="fc10"><circle r="22"/></clipPath></defs><path d="M6.7 -31.3A32 32 0 0 1 27.1 -17.0" stroke="#f4f4f4" stroke-width="7" fill="none"/><path d="M26.3 -12.3A29 29 0 0 1 26.9 10.9" stroke="#119a3a" stroke-width="6" fill="none"/><path d="M27.4 14.6A31 31 0 0 1 14.6 27.4" stroke="#119a3a" stroke-width="7" fill="none"/><path d="M9.7 30.0A31.5 31.5 0 0 1 -16.7 26.7" stroke="#d8141c" stroke-width="7" fill="none"/><path d="M-20.9 20.9A29.5 29.5 0 0 1 -27.7 -10.1" stroke="#119a3a" stroke-width="6" fill="none"/><path d="M-29.1 -10.6A31 31 0 0 1 -17.3 -25.7" stroke="#f4f4f4" stroke-width="6" fill="none"/><path d="M-22.1 -15.5A27 27 0 0 1 13.5 -23.4" stroke="#d8141c" stroke-width="5" fill="none"/><path d="M7.0 26.1A27 27 0 0 1 -19.1 19.1" stroke="#f4f4f4" stroke-width="3.5" fill="none"/><circle r="24.5" fill="#1a1a1a"/><circle r="23.2" fill="#fff"/><g clip-path="url(#fc10)"><rect x="-22" y="-22.00" width="44" height="14.97" fill="#119a3a"/><rect x="-22" y="-7.33" width="44" height="14.97" fill="#ffffff"/><rect x="-22" y="7.33" width="44" height="14.97" fill="#d8141c"/><path d="M-22 -22 L-8 -8 L-8 8 L-22 22Z" fill="#111111"/></g><circle r="22" fill="url(#gloss)"/></svg></div>
<div class="abs" style="left:1240.6px;top:918px;width:80px;height:80px"><svg class="flag" width="80" height="80" viewBox="-40 -40 80 80"><defs><clipPath id="fc11"><circle r="22"/></clipPath></defs><path d="M6.7 -31.3A32 32 0 0 1 27.1 -17.0" stroke="#f4f4f4" stroke-width="7" fill="none"/><path d="M26.3 -12.3A29 29 0 0 1 26.9 10.9" stroke="#d8141c" stroke-width="6" fill="none"/><path d="M27.4 14.6A31 31 0 0 1 14.6 27.4" stroke="#d8141c" stroke-width="7" fill="none"/><path d="M9.7 30.0A31.5 31.5 0 0 1 -16.7 26.7" stroke="#ffffff" stroke-width="7" fill="none"/><path d="M-20.9 20.9A29.5 29.5 0 0 1 -27.7 -10.1" stroke="#119a3a" stroke-width="6" fill="none"/><path d="M-29.1 -10.6A31 31 0 0 1 -17.3 -25.7" stroke="#f4f4f4" stroke-width="6" fill="none"/><path d="M-22.1 -15.5A27 27 0 0 1 13.5 -23.4" stroke="#111111" stroke-width="5" fill="none"/><path d="M7.0 26.1A27 27 0 0 1 -19.1 19.1" stroke="#f4f4f4" stroke-width="3.5" fill="none"/><circle r="24.5" fill="#1a1a1a"/><circle r="23.2" fill="#fff"/><g clip-path="url(#fc11)"><rect x="-22" y="-22.00" width="44" height="14.97" fill="#111111"/><rect x="-22" y="-7.33" width="44" height="14.97" fill="#ffffff"/><rect x="-22" y="7.33" width="44" height="14.97" fill="#119a3a"/><path d="M-22 -22 L6 0 L-22 22Z" fill="#d8141c"/><polygon points="-10.0,-3.0 -9.4,-1.2 -7.7,-1.9 -8.7,-0.3 -7.1,0.7 -8.9,0.8 -8.7,2.7 -10.0,1.4 -11.3,2.7 -11.1,0.8 -12.9,0.7 -11.3,-0.3 -12.3,-1.9 -10.6,-1.2" fill="#fff"/></g><circle r="22" fill="url(#gloss)"/></svg></div>
<div class="abs" style="left:1347.2px;top:918px;width:80px;height:80px"><svg class="flag" width="80" height="80" viewBox="-40 -40 80 80"><defs><clipPath id="fc12"><circle r="22"/></clipPath></defs><path d="M6.7 -31.3A32 32 0 0 1 27.1 -17.0" stroke="#f4f4f4" stroke-width="7" fill="none"/><path d="M26.3 -12.3A29 29 0 0 1 26.9 10.9" stroke="#119a3a" stroke-width="6" fill="none"/><path d="M27.4 14.6A31 31 0 0 1 14.6 27.4" stroke="#119a3a" stroke-width="7" fill="none"/><path d="M9.7 30.0A31.5 31.5 0 0 1 -16.7 26.7" stroke="#d8141c" stroke-width="7" fill="none"/><path d="M-20.9 20.9A29.5 29.5 0 0 1 -27.7 -10.1" stroke="#119a3a" stroke-width="6" fill="none"/><path d="M-29.1 -10.6A31 31 0 0 1 -17.3 -25.7" stroke="#f4f4f4" stroke-width="6" fill="none"/><path d="M-22.1 -15.5A27 27 0 0 1 13.5 -23.4" stroke="#d8141c" stroke-width="5" fill="none"/><path d="M7.0 26.1A27 27 0 0 1 -19.1 19.1" stroke="#f4f4f4" stroke-width="3.5" fill="none"/><circle r="24.5" fill="#1a1a1a"/><circle r="23.2" fill="#fff"/><g clip-path="url(#fc12)"><rect x="-22" y="-22" width="22" height="44" fill="#006233"/><rect x="0" y="-22" width="22" height="44" fill="#fff"/><circle r="9" fill="#d21034"/><circle cx="2.5" r="7.5" fill="#fff"/><rect x="0" y="-8" width="0" height="0"/><polygon points="4.0,-4.0 5.1,-1.5 7.8,-1.2 5.7,0.6 6.4,3.2 4.0,1.8 1.6,3.2 2.3,0.6 0.2,-1.2 2.9,-1.5" fill="#d21034"/><path d="M0 -12 L0 12" stroke="none"/><rect x="-22" y="-22" width="0" height="0"/></g><circle r="22" fill="url(#gloss)"/></svg></div>
<div class="abs" style="left:1453.8px;top:918px;width:80px;height:80px"><svg class="flag" width="80" height="80" viewBox="-40 -40 80 80"><defs><clipPath id="fc13"><circle r="22"/></clipPath></defs><path d="M6.7 -31.3A32 32 0 0 1 27.1 -17.0" stroke="#f4f4f4" stroke-width="7" fill="none"/><path d="M26.3 -12.3A29 29 0 0 1 26.9 10.9" stroke="#119a3a" stroke-width="6" fill="none"/><path d="M27.4 14.6A31 31 0 0 1 14.6 27.4" stroke="#119a3a" stroke-width="7" fill="none"/><path d="M9.7 30.0A31.5 31.5 0 0 1 -16.7 26.7" stroke="#d8141c" stroke-width="7" fill="none"/><path d="M-20.9 20.9A29.5 29.5 0 0 1 -27.7 -10.1" stroke="#119a3a" stroke-width="6" fill="none"/><path d="M-29.1 -10.6A31 31 0 0 1 -17.3 -25.7" stroke="#f4f4f4" stroke-width="6" fill="none"/><path d="M-22.1 -15.5A27 27 0 0 1 13.5 -23.4" stroke="#d8141c" stroke-width="5" fill="none"/><path d="M7.0 26.1A27 27 0 0 1 -19.1 19.1" stroke="#f4f4f4" stroke-width="3.5" fill="none"/><circle r="24.5" fill="#1a1a1a"/><circle r="23.2" fill="#fff"/><g clip-path="url(#fc13)"><rect x="-22" y="-22.00" width="44" height="14.97" fill="#239f40"/><rect x="-22" y="-7.33" width="44" height="14.97" fill="#ffffff"/><rect x="-22" y="7.33" width="44" height="14.97" fill="#da0000"/><rect x="-3" y="-5" width="6" height="9" rx="2" fill="#da0000"/></g><circle r="22" fill="url(#gloss)"/></svg></div>
<div class="band"></div>
<div class="lbl fit" style="left:29.0px"><span class="fi">مصر*</span></div>
<div class="lbl fit" style="left:135.6px"><span class="fi">العراق</span></div>
<div class="lbl fit" style="left:242.2px"><span class="fi">الإمارات</span></div>
<div class="lbl fit" style="left:348.8px"><span class="fi">المغرب</span></div>
<div class="lbl fit" style="left:455.4px"><span class="fi">عمان</span></div>
<div class="lbl fit" style="left:562.0px"><span class="fi">السعودية</span></div>
<div class="lbl fit" style="left:668.6px"><span class="fi">قطر</span></div>
<div class="lbl fit" style="left:775.2px"><span class="fi">تونس</span></div>
<div class="lbl fit" style="left:881.8px"><span class="fi">البحرين</span></div>
<div class="lbl fit" style="left:988.4px"><span class="fi">فلسطين</span></div>
<div class="lbl fit" style="left:1095.0px"><span class="fi">الكويت</span></div>
<div class="lbl fit" style="left:1201.6px"><span class="fi">الأردن</span></div>
<div class="lbl fit" style="left:1308.2px"><span class="fi">الجزائر</span></div>
<div class="lbl fit" style="left:1414.8px"><span class="fi">إيران</span></div>

<div class="pill" style="left:633px;top:1074px;width:123px;height:36px;line-height:30px"><span class="fit" style="display:inline-block;transform:scaleX(.9)">*سنة مالية</span></div>
<div class="pill" style="left:777px;top:1074px;width:190px;height:36px;line-height:30px"><span class="fit" style="display:inline-block;transform:scaleX(.84)">المصدر: البنك الدولى</span></div>

<script>
(function(){
var W=[1271.33,1294.95,773.75,54.87,65.1,82.77,73.47,53.01,89.28,45.57,56.73,77.19,88.35,68.82,62.31,70.68,53.01,77.4,146.16];
var els=document.querySelectorAll('.fit');
if(els.length!==W.length)return;
for(var i=0;i<els.length;i++){
var e=els[i],m=e.querySelector('.fi')||e,old=e.style.transform;
e.style.transform='none';
var w=m.getBoundingClientRect().width;
if(w>0){e.style.transform='scaleX('+(W[i]/w).toFixed(4)+')';}else{e.style.transform=old;}
}
})();
</script></body></html>
